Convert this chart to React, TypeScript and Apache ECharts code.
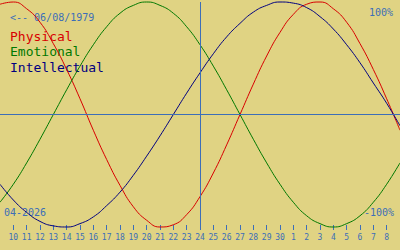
import React, { useEffect, useRef } from "react";
import * as echarts from "echarts";

// Day-of-month labels, 9 April 2026 .. 9 May 2026
const dayLabels = [
  "9", "10", "11", "12", "13", "14", "15", "16", "17", "18", "19", "20", "21", "22", "23",
  "24", "25", "26", "27", "28", "29", "30", "1", "2", "3", "4", "5", "6", "7", "8", "9",
];
const todayLabel = "24";
const birthText = "<-- 06/08/1979";
const monthText = "04-2026";
const topPct = "100%";
const bottomPct = "-100%";

const seriesNames = ["Physical", "Emotional", "Intellectual"];
const seriesColors = ["#d80000", "#007800", "#000080"];

// Values in percent, one per day
const physical = [
  98, 100, 94, 82, 63, 40, 14, -14, -40, -63, -82, -94, -100, -98, -89, -73,
  -52, -27, 0, 27, 52, 73, 89, 98, 100, 94, 82, 63, 40, 14, -14,
];
const emotional = [
  -78, -62, -43, -22, 0, 22, 43, 62, 78, 90, 97, 100, 97, 90, 78, 62,
  43, 22, 0, -22, -43, -62, -78, -90, -97, -100, -97, -90, -78, -62, -43,
];
const intellectual = [
  -62, -76, -87, -95, -99, -100, -97, -91, -81, -69, -54, -37, -19, 0, 19, 37,
  54, 69, 81, 91, 97, 100, 99, 95, 87, 76, 62, 46, 28, 10, -10,
];

const BG = "#e0d383";
const BLUE = "#3c6eb8";
const MONO = "'DejaVu Sans Mono', 'Liberation Mono', monospace";

export default function App() {
  const ref = useRef<HTMLDivElement>(null);

  useEffect(() => {
    if (!ref.current) return;
    const chart = echarts.init(ref.current, null, { renderer: "svg" });
    const values = [physical, emotional, intellectual];
    const lastIdx = dayLabels.length - 1;
    const innerTicks = dayLabels.map((_, i) => i).slice(1, lastIdx);
    const todayIdx = dayLabels.indexOf(todayLabel);

    const series: any[] = values.map((arr, s) => ({
      name: seriesNames[s],
      type: "line",
      data: arr.map((v, i) => [i, v]),
      showSymbol: false,
      smooth: true,
      clip: false,
      lineStyle: { width: 1, color: seriesColors[s] },
      itemStyle: { color: seriesColors[s] },
      z: 3,
    }));
    series.push({
      type: "line",
      data: [],
      silent: true,
      markLine: {
        silent: true,
        symbol: "none",
        label: { show: false },
        lineStyle: { color: BLUE, width: 1, type: "solid" },
        data: [{ xAxis: todayIdx }, { yAxis: 0 }],
      },
      z: 2,
    });

    chart.setOption({
      animation: false,
      backgroundColor: BG,
      grid: { left: 0, right: 0, top: 2, bottom: 23 },
      xAxis: {
        type: "value",
        min: 0,
        max: lastIdx,
        interval: 1,
        offset: -2,
        splitLine: { show: false },
        axisLine: { show: false, onZero: false },
        axisTick: {
          show: true,
          length: 5,
          customValues: innerTicks,
          lineStyle: { color: BLUE, width: 1 },
        },
        axisLabel: {
          customValues: innerTicks,
          margin: 8,
          color: BLUE,
          fontFamily: MONO,
          fontSize: 8,
          formatter: (v: number) => dayLabels[Math.round(v)] ?? "",
        },
      },
      yAxis: {
        type: "value",
        min: -100,
        max: 100,
        show: false,
      },
      graphic: [
        {
          type: "text",
          left: 10,
          top: 12,
          style: { text: birthText, fill: BLUE, font: `10px ${MONO}` },
        },
        ...seriesNames.map((n, s) => ({
          type: "text",
          left: 10,
          top: 30 + s * 15.3,
          style: { text: n, fill: seriesColors[s], font: `13px ${MONO}` },
        })),
        {
          type: "text",
          right: 7,
          top: 7,
          style: { text: topPct, fill: BLUE, font: `10px ${MONO}` },
        },
        {
          type: "text",
          right: 6,
          top: 207,
          style: { text: bottomPct, fill: BLUE, font: `10px ${MONO}` },
        },
        {
          type: "text",
          left: 4,
          top: 207,
          style: { text: monthText, fill: BLUE, font: `10px ${MONO}` },
        },
      ],
      series,
    });
    return () => chart.dispose();
  }, []);

  return (
    <div
      ref={ref}
      style={{ position: "fixed", left: 0, top: 0, width: 400, height: 250 }}
    />
  );
}
